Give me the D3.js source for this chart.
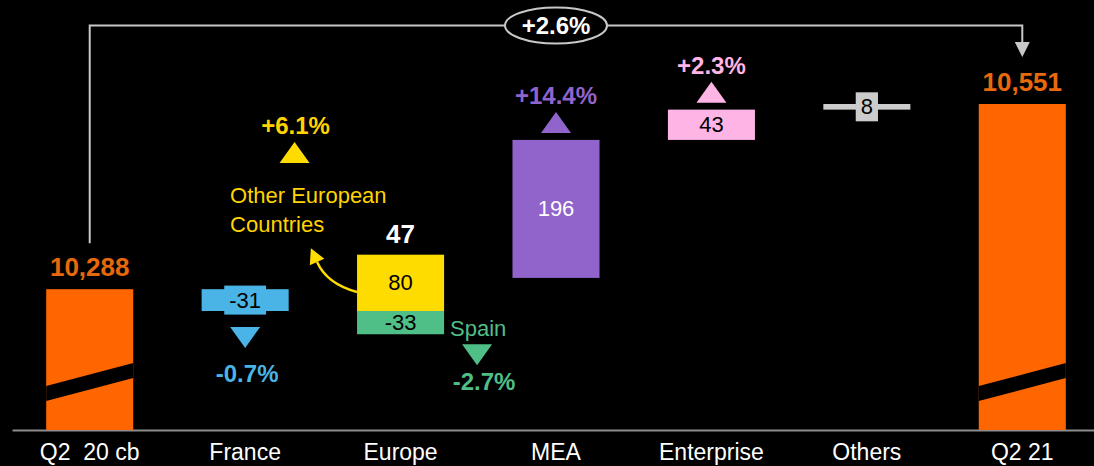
<!DOCTYPE html>
<html>
<head>
<meta charset="utf-8">
<script src="https://cdn.jsdelivr.net/npm/d3@7"></script>
<style>
  html, body { margin: 0; background: #000; }
  svg { display: block; font-family: "Liberation Sans", Arial, Helvetica, sans-serif; }
</style>
</head>
<body>
<svg id="chart" width="1094" height="466"></svg>
<script>
// Revenue bridge, Q2 20 (comparable basis) to Q2 21, in EUR m
const categories = ["Q2  20 cb", "France", "Europe", "MEA", "Enterprise", "Others", "Q2 21"];
const totalCategories = ["Q2  20 cb", "Q2 21"];
const totalValues = [10288, 10551];

const changeCategories = ["France", "Europe", "MEA", "Enterprise", "Others"];
const changeValues = [-31, 47, 196, 43, 8];
const changeGrowth = ["-0.7%", null, "+14.4%", "+2.3%", null];

// Europe split into its two components
const europeParts = ["Other European Countries", "Spain"];
const europeValues = [80, -33];
const europeGrowth = ["+6.1%", "-2.7%"];

const overallGrowth = "+2.6%";

const palette = {
  total: "#ff6600", totalText: "#e8690c",
  France: "#4bb4e6", MEA: "#9164cc", Enterprise: "#ffb4e6", Others: "#cccccc",
  "Other European Countries": "#ffdc00", Spain: "#50be87",
  axis: "#8c8c8c", bracket: "#c8c8c8"
};
const textColor = { MEA: "#ffffff" };
const growthText = { "Other European Countries": "#ffd400" };

const baseY = 430;
const svg = d3.select("#chart");

const x = d3.scaleBand().domain(categories).range([12, 1100])
  .paddingInner(0.44).paddingOuter(0.22);
const bw = x.bandwidth();
const cx = c => x(c) + bw / 2;

// broken value axis: the floor is hidden by the break on the total bars
const y = d3.scaleLinear().domain([10088, 10551]).range([baseY, 104]);

// running levels of the bridge
const levels = [];
let level = totalValues[0];
changeCategories.forEach((c, i) => {
  levels.push({ cat: c, from: level, to: level + changeValues[i], value: changeValues[i], growth: changeGrowth[i] });
  level += changeValues[i];
});
const europeStart = levels[1].from;

// ---- axis
const axis = svg.append("g").attr("transform", `translate(0,${baseY})`)
  .call(d3.axisBottom(x).tickSize(0).tickSizeOuter(0).tickPadding(14));
axis.select(".domain").attr("stroke", palette.axis).attr("stroke-width", 2);
axis.selectAll(".tick text")
  .attr("fill", "#fff").attr("font-size", 23).style("white-space", "pre")
  .attr("font-family", "'Liberation Sans', Arial, Helvetica, sans-serif");

// ---- total bars with a break band
const totals = totalCategories.map((c, i) => ({ cat: c, value: totalValues[i] }));
const tg = svg.append("g");
tg.selectAll("rect").data(totals).join("rect")
  .attr("x", d => x(d.cat)).attr("width", bw)
  .attr("y", d => y(d.value)).attr("height", d => baseY - y(d.value))
  .attr("fill", palette.total);
tg.selectAll("polygon").data(totals).join("polygon")
  .attr("points", d => {
    const x0 = x(d.cat), x1 = x0 + bw;
    return [[x0, baseY - 44], [x1, baseY - 67], [x1, baseY - 52], [x0, baseY - 29]].join(" ");
  })
  .attr("fill", "#000");
tg.selectAll("text").data(totals).join("text")
  .attr("x", d => cx(d.cat)).attr("y", d => y(d.value) - 13)
  .attr("text-anchor", "middle").attr("font-size", 26).attr("font-weight", "bold")
  .attr("fill", palette.totalText)
  .text(d => d3.format(",")(d.value));

// ---- change bars
const bars = [];
levels.forEach(d => {
  if (d.cat === "Europe") {
    europeParts.forEach((p, j) => bars.push({ cat: "Europe", key: p, from: europeStart, to: europeStart + europeValues[j], value: europeValues[j] }));
  } else {
    bars.push({ cat: d.cat, key: d.cat, from: d.from, to: d.to, value: d.value });
  }
});

const bg = svg.append("g");
bars.forEach(b => {
  const top = y(Math.max(b.from, b.to)), bot = y(Math.min(b.from, b.to));
  const mid = (top + bot) / 2;
  bg.append("rect")
    .attr("x", x(b.cat)).attr("width", bw)
    .attr("y", top).attr("height", bot - top)
    .attr("fill", palette[b.key]);
  const t = bg.append("text")
    .attr("x", cx(b.cat)).attr("y", mid).attr("dy", "0.34em")
    .attr("text-anchor", "middle").attr("font-size", 22)
    .attr("fill", textColor[b.key] || "#000")
    .text(String(b.value));
  // thin bars get a label plate in the bar colour
  if (bot - top < 23) {
    const tw = t.node().getComputedTextLength();
    bg.insert("rect", () => t.node())
      .attr("x", cx(b.cat) - tw / 2 - 5).attr("width", tw + 10)
      .attr("y", mid - 14.5).attr("height", 29)
      .attr("fill", palette[b.key]);
  }
});

// ---- growth markers
const ag = svg.append("g");
function triangle(xc, yTop, up, color) {
  const w = 30, h = 21;
  const pts = up
    ? [[xc, yTop], [xc + w / 2, yTop + h], [xc - w / 2, yTop + h]]
    : [[xc - w / 2, yTop], [xc + w / 2, yTop], [xc, yTop + h]];
  ag.append("polygon").attr("points", pts.join(" ")).attr("fill", color);
}
function growthLabel(xc, yBase, txt, color) {
  ag.append("text").attr("x", xc).attr("y", yBase)
    .attr("text-anchor", "middle").attr("font-size", 24).attr("font-weight", "bold")
    .attr("fill", color).text(txt);
}
levels.forEach(d => {
  if (!d.growth) return;
  const col = palette[d.cat];
  if (d.value >= 0) {
    const barTop = y(d.to);
    const triTop = barTop - 7 - 21;
    triangle(cx(d.cat), triTop, true, col);
    growthLabel(cx(d.cat), triTop - 8, d.growth, col);
  } else {
    const barBot = y(d.to);
    const triTop = barBot + 16;
    triangle(cx(d.cat), triTop, false, col);
    growthLabel(cx(d.cat) + 2, triTop + 55, d.growth, col);
  }
});

// Europe components
const ex = x("Europe");
const y0 = y(europeStart);
{
  const key = europeParts[0], col = palette[key], tcol = growthText[key];
  const ax = cx("Europe") - 106;
  triangle(ax, y0 - 169, true, col);
  growthLabel(ax + 1, y0 - 177, europeGrowth[0], tcol);
  const lt = ag.append("text").attr("x", ex - 127).attr("font-size", 22).attr("fill", tcol);
  lt.append("tspan").attr("x", ex - 127).attr("y", y0 - 108).text("Other European");
  lt.append("tspan").attr("x", ex - 127).attr("y", y0 - 79).text("Countries");

  // curved pointer from the yellow bar to its caption
  const p0 = [ex, y0 - 19], c = [ex - 30, y0 - 27], p1 = [ex - 40, y0 - 49];
  ag.append("path")
    .attr("d", `M${p0}Q${c} ${p1}`)
    .attr("fill", "none").attr("stroke", col).attr("stroke-width", 2.5);
  const dx = p1[0] - c[0], dy = p1[1] - c[1], L = Math.hypot(dx, dy);
  const ux = dx / L, uy = dy / L, len = 15, hw = 8;
  const tip = [p1[0] + ux * len, p1[1] + uy * len];
  ag.append("polygon")
    .attr("points", [tip, [p1[0] - uy * hw, p1[1] + ux * hw], [p1[0] + uy * hw, p1[1] - ux * hw]].join(" "))
    .attr("fill", col);
}
{
  const key = europeParts[1], col = palette[key];
  const sBot = y(europeStart + europeValues[1]);
  ag.append("text").attr("x", ex + bw + 6).attr("y", sBot + 2)
    .attr("font-size", 22).attr("fill", col).text(key);
  triangle(ex + bw + 33, sBot + 10, false, col);
  growthLabel(ex + bw + 40, sBot + 56, europeGrowth[1], col);
}

// Europe net change above the stack
svg.append("text")
  .attr("x", cx("Europe")).attr("y", y(europeStart + europeValues[0]) - 12)
  .attr("text-anchor", "middle").attr("font-size", 26).attr("font-weight", "bold")
  .attr("fill", "#fff").text(changeValues[1]);

// ---- overall bracket from start total to end total
const lineY = 25.5;
const xa = cx(totalCategories[0]), xb = cx(totalCategories[1]);
const brg = svg.append("g");
brg.append("path")
  .attr("d", `M${xa},${y(totalValues[0]) - 46}V${lineY}H${xb}V${y(totalValues[1]) - 60}`)
  .attr("fill", "none").attr("stroke", palette.bracket).attr("stroke-width", 2);
const tipY = y(totalValues[1]) - 47;
brg.append("polygon")
  .attr("points", [[xb - 7.5, tipY - 15], [xb + 7.5, tipY - 15], [xb, tipY]].join(" "))
  .attr("fill", palette.bracket);
const mx = (xa + xb) / 2;
brg.append("ellipse").attr("cx", mx).attr("cy", lineY).attr("rx", 51).attr("ry", 18)
  .attr("fill", "#000").attr("stroke", palette.bracket).attr("stroke-width", 2);
brg.append("text").attr("x", mx).attr("y", lineY).attr("dy", "0.35em")
  .attr("text-anchor", "middle").attr("font-size", 24).attr("font-weight", "bold")
  .attr("fill", "#fff").text(overallGrowth);
</script>
</body>
</html>
